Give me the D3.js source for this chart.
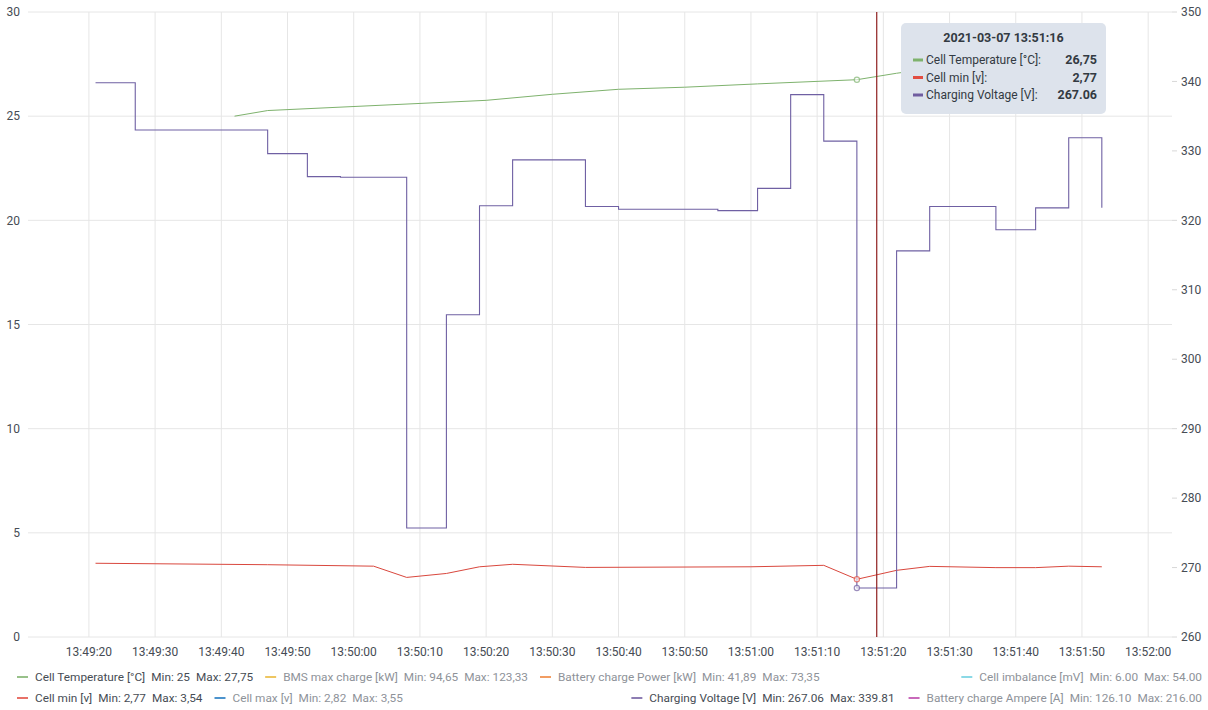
<!DOCTYPE html>
<html>
<head>
<meta charset="utf-8">
<script src="https://cdn.jsdelivr.net/npm/d3@7"></script>
<style>
  body { margin: 0; background: #fff; }
  text { font-family: Roboto, "Open Sans", sans-serif; }
</style>
</head>
<body>
<script>
// series data (day 2021-03-07)
var voltTimes = ["13:49:21","13:49:27","13:49:47","13:49:53","13:49:58","13:50:08","13:50:14","13:50:19","13:50:24","13:50:35","13:50:40","13:50:55","13:51:01","13:51:06","13:51:11","13:51:16","13:51:22","13:51:27","13:51:37","13:51:43","13:51:48","13:51:53"];
var voltValues = [339.81,333.0,329.6,326.3,326.2,275.7,306.4,322.1,328.7,322.0,321.6,321.4,324.6,338.1,331.4,267.06,315.6,322.0,318.65,321.8,331.9,321.8];

var tempTimes = ["13:49:42","13:49:47","13:50:20","13:50:30","13:50:40","13:50:50","13:51:01","13:51:16","13:51:22","13:51:32","13:51:42"];
var tempValues = [25,25.27,25.76,26.05,26.29,26.39,26.55,26.75,27.06,27.5,27.75];

var cellMinTimes = ["13:49:21","13:49:47","13:50:03","13:50:08","13:50:14","13:50:19","13:50:24","13:50:35","13:51:00","13:51:11","13:51:16","13:51:22","13:51:27","13:51:37","13:51:43","13:51:48","13:51:53"];
var cellMinValues = [3.54,3.47,3.40,2.86,3.05,3.37,3.49,3.34,3.37,3.44,2.77,3.20,3.39,3.33,3.33,3.40,3.37];

var timeRange = ["13:49:10.8","13:52:03.6"];
var hoverTime = "13:51:16";
var cursorTime = "13:51:19";

var leftTicks = [0,5,10,15,20,25,30];
var rightTicks = [260,270,280,290,300,310,320,330,340,350];

var legendRow1Left = [
  ["Cell Temperature [°C]","Min: 25","Max: 27,75","#7eb26d",true],
  ["BMS max charge [kW]","Min: 94,65","Max: 123,33","#eab839",false],
  ["Battery charge Power [kW]","Min: 41,89","Max: 73,35","#ef843c",false]
];
var legendRow1Right = [
  ["Cell imbalance [mV]","Min: 6.00","Max: 54.00","#6ed0e0",false]
];
var legendRow2Left = [
  ["Cell min [v]","Min: 2,77","Max: 3,54","#e24d42",true],
  ["Cell max [v]","Min: 2,82","Max: 3,55","#1f78c1",false]
];
var legendRow2Right = [
  ["Charging Voltage [V]","Min: 267.06","Max: 339.81","#705da0",true],
  ["Battery charge Ampere [A]","Min: 126.10","Max: 216.00","#ba43a9",false]
];

var tooltipTitle = "2021-03-07 13:51:16";
var tooltipRows = [
  ["Cell Temperature [°C]:","26,75","#7eb26d"],
  ["Cell min [v]:","2,77","#e24d42"],
  ["Charging Voltage [V]:","267.06","#705da0"]
];

var width = 1208, height = 710;
var plotL = 28, plotR = 1172, plotT = 12, plotB = 637;
var parse = d3.timeParse("%Y-%m-%d %H:%M:%S.%L");
function t(s) {
  if (s.indexOf(".") < 0) s = s + ".000";
  else s = s + "00";
  return parse("2021-03-07 " + s);
}

var svg = d3.select("body").append("svg")
  .attr("width", width)
  .attr("height", height);

var x = d3.scaleTime().domain(timeRange.map(t)).range([plotL, plotR]);
var yL = d3.scaleLinear().domain([0, 30]).range([plotB, plotT]);
var yR = d3.scaleLinear().domain([260, 350]).range([plotB, plotT]);

var xTicks = x.ticks(d3.timeSecond.every(10));

// grid
svg.append("g").selectAll("line").data(leftTicks).join("line")
  .attr("x1", plotL).attr("x2", plotR)
  .attr("y1", d => yL(d)).attr("y2", d => yL(d))
  .attr("stroke", "#e6e6e6").attr("stroke-width", 1);
svg.append("g").selectAll("line").data(xTicks).join("line")
  .attr("x1", d => x(d)).attr("x2", d => x(d))
  .attr("y1", plotT).attr("y2", plotB)
  .attr("stroke", "#e6e6e6").attr("stroke-width", 1);

// axes labels
svg.append("g").selectAll("text").data(leftTicks).join("text")
  .attr("x", 20).attr("y", d => yL(d)).attr("dy", "0.35em")
  .attr("text-anchor", "end").attr("font-size", 12).attr("fill", "#464c54")
  .text(d => d);
svg.append("g").selectAll("line").data(rightTicks).join("line")
  .attr("x1", plotR).attr("x2", plotR + 5)
  .attr("y1", d => yR(d)).attr("y2", d => yR(d))
  .attr("stroke", "#d8d8d8");
svg.append("g").selectAll("text").data(rightTicks).join("text")
  .attr("x", 1181).attr("y", d => yR(d)).attr("dy", "0.35em")
  .attr("font-size", 12).attr("fill", "#464c54")
  .text(d => d);
var fmt = d3.timeFormat("%H:%M:%S");
svg.append("g").selectAll("text").data(xTicks).join("text")
  .attr("x", d => x(d)).attr("y", 652).attr("dy", "0.35em")
  .attr("text-anchor", "middle").attr("font-size", 12).attr("fill", "#464c54")
  .text(d => fmt(d));

// lines
function series(times, values) {
  return times.map((s, i) => ({ t: t(s), v: values[i] }));
}
var tempData = series(tempTimes, tempValues);
var minData = series(cellMinTimes, cellMinValues);
var voltData = series(voltTimes, voltValues);

svg.append("path").datum(tempData)
  .attr("fill", "none").attr("stroke", "#7eb26d").attr("stroke-width", 1)
  .attr("d", d3.line().x(d => x(d.t)).y(d => yL(d.v)));
svg.append("path").datum(minData)
  .attr("fill", "none").attr("stroke", "#d9473d").attr("stroke-width", 1)
  .attr("d", d3.line().x(d => x(d.t)).y(d => yL(d.v)));
svg.append("path").datum(voltData)
  .attr("fill", "none").attr("stroke", "#6f60a3").attr("stroke-width", 1.1)
  .attr("d", d3.line().curve(d3.curveStepAfter).x(d => x(d.t)).y(d => yR(d.v)));

// cursor + hover points
var ht = t(hoverTime);
svg.append("line")
  .attr("x1", x(t(cursorTime))).attr("x2", x(t(cursorTime)))
  .attr("y1", plotT).attr("y2", plotB)
  .attr("stroke", "#8f1f1f").attr("stroke-width", 1.2);
var hovers = [
  [tempData.find(d => +d.t == +ht).v, yL, "#7eb26d"],
  [minData.find(d => +d.t == +ht).v, yL, "#e24d42"],
  [voltData.find(d => +d.t == +ht).v, yR, "#705da0"]
];
svg.append("g").selectAll("circle").data(hovers).join("circle")
  .attr("cx", x(ht)).attr("cy", d => d[1](d[0])).attr("r", 2.6)
  .attr("fill", "#fff").attr("fill-opacity", 0.6)
  .attr("stroke", d => d[2]).attr("stroke-width", 1.2).attr("stroke-opacity", 0.7);

// tooltip
var tip = svg.append("g").attr("transform", "translate(901,23)");
tip.append("rect").attr("width", 205).attr("height", 91).attr("rx", 5)
  .attr("fill", "#dde3ec");
tip.append("text").attr("x", 102.5).attr("y", 15).attr("dy", "0.35em")
  .attr("text-anchor", "middle").attr("font-size", 12.5).attr("font-weight", "bold")
  .attr("fill", "#333a42").text(tooltipTitle);
var rows = tip.selectAll("g.row").data(tooltipRows).join("g")
  .attr("transform", (d, i) => "translate(0," + (37 + i * 17.5) + ")");
rows.append("line").attr("x1", 12).attr("x2", 22).attr("y1", 0).attr("y2", 0)
  .attr("stroke", d => d[2]).attr("stroke-width", 3);
rows.append("text").attr("x", 25).attr("dy", "0.35em").attr("font-size", 12)
  .attr("fill", "#333a42").text(d => d[0]);
rows.append("text").attr("x", 196).attr("dy", "0.35em").attr("font-size", 12.5)
  .attr("text-anchor", "end").attr("font-weight", "bold")
  .attr("fill", "#333a42").text(d => d[1]);

// legend
function legendItem(g, d) {
  var col = d[4] ? "#464c54" : "#8e9299";
  g.append("line").attr("x1", 0).attr("x2", 11).attr("y1", 0).attr("y2", 0)
    .attr("stroke", d[3]).attr("stroke-width", 2).attr("stroke-opacity", 0.8);
  var px = 18;
  [d[0], d[1], d[2]].forEach(function (s) {
    var tx = g.append("text").attr("x", px).attr("dy", "0.35em")
      .attr("font-size", 11.8).attr("fill", col).text(s);
    px += tx.node().getComputedTextLength() + 6;
  });
  return px - 6;
}
function legendRow(items, y, startX, gap, alignRight) {
  if (!alignRight) {
    var cx = startX;
    items.forEach(function (d) {
      var g = svg.append("g").attr("transform", "translate(" + cx + "," + y + ")");
      cx += legendItem(g, d) + gap;
    });
  } else {
    var ex = startX;
    items.slice().reverse().forEach(function (d) {
      var g = svg.append("g");
      var w = legendItem(g, d);
      g.attr("transform", "translate(" + (ex - w) + "," + y + ")");
      ex -= w + gap;
    });
  }
}
legendRow(legendRow1Left, 677, 17, 12, false);
legendRow(legendRow1Right, 677, 1202, 14, true);
legendRow(legendRow2Left, 698, 17, 12, false);
legendRow(legendRow2Right, 698, 1202, 14, true);
</script>
</body>
</html>
